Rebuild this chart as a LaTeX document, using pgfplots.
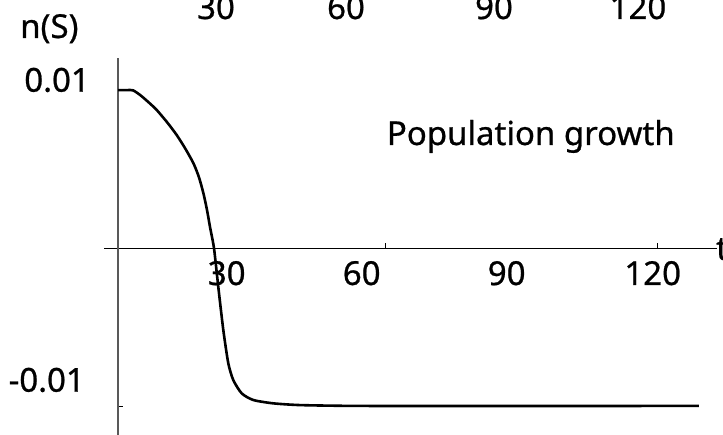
\documentclass[border=0pt]{standalone}
\usepackage{fontspec}
\setmainfont{Noto Sans}[FakeBold=0.7]
\usepackage{pgfplots}
\pgfplotsset{compat=1.18}

% n(S) against t
\pgfplotstableread{
t      n
1.0    0.01000
3.0    0.01000
4.3    0.00998
6.0    0.00965
8.0    0.00915
9.5    0.00874
11.8   0.00796
13.9   0.00716
15.8   0.00630
17.6   0.00537
18.8   0.00450
19.8   0.00347
20.6   0.00240
21.24  0.00136
22.13  0.00000
23.07 -0.00243
24.18 -0.00516
25.28 -0.00726
26.38 -0.00832
28.24 -0.00916
30.8  -0.00958
35.2  -0.00979
41.1  -0.00990
52.1  -0.00995
70.0  -0.00996
100.0 -0.00996
129.1 -0.00995
}\growth

\newcommand{\lbl}{\fontsize{33}{38}\selectfont}

\begin{document}
\begin{tikzpicture}
\begin{axis}[
  scale only axis,
  width=599.1pt, height=376.9pt,
  at={(118pt,-435pt)}, anchor=south west,
  xmin=0.95, xmax=133.1,
  ymin=-0.01179, ymax=0.01202,
  scaled y ticks=false, scaled x ticks=false,
  axis x line=middle, axis y line=left,
  axis line style={-},
  x axis line style={black, line width=1.5pt, shorten <=-14pt},
  y axis line style={black!65, line width=1.5pt},
  xtick={60,120}, ytick={-0.01,0.01},
  xticklabels={}, yticklabels={},
  tick align=inside,
  major tick length=5pt,
  tick style={black, line width=1pt},
  clip=false,
]
\addplot[black, line width=2.6pt, smooth, tension=0.4] table[x=t, y=n] {\growth};
\end{axis}

% labels
\node[anchor=base east, inner sep=0pt] at (90pt,-91.7pt) {\lbl 0.01};
\node[anchor=base east, inner sep=0pt] at (85pt,-391.7pt) {\lbl -0.01};
\node[anchor=base, inner sep=0pt] at (226.7pt,-285pt) {\lbl 30};
\node[anchor=base, inner sep=0pt] at (361.7pt,-285pt) {\lbl 60};
\node[anchor=base, inner sep=0pt] at (506.7pt,-285pt) {\lbl 90};
\node[anchor=base, inner sep=0pt] at (652.7pt,-285pt) {\lbl 120};
\node[anchor=base west, inner sep=0pt] at (20pt,-38pt) {\lbl n(S)};
\node[anchor=base west, inner sep=0pt] at (386.7pt,-145pt) {\lbl Population growth};
\node[anchor=base west, inner sep=0pt] at (716pt,-260pt) {\lbl t};
% tick labels of the panel above, running off the top edge
\node[anchor=base, inner sep=0pt] at (216pt,-19pt) {\lbl 30};
\node[anchor=base, inner sep=0pt] at (346pt,-19pt) {\lbl 60};
\node[anchor=base, inner sep=0pt] at (494pt,-19pt) {\lbl 90};
\node[anchor=base, inner sep=0pt] at (638pt,-19pt) {\lbl 120};

\pgfresetboundingbox
\path[use as bounding box] (0,0) rectangle (723pt,-435pt);
\end{tikzpicture}
\end{document}
